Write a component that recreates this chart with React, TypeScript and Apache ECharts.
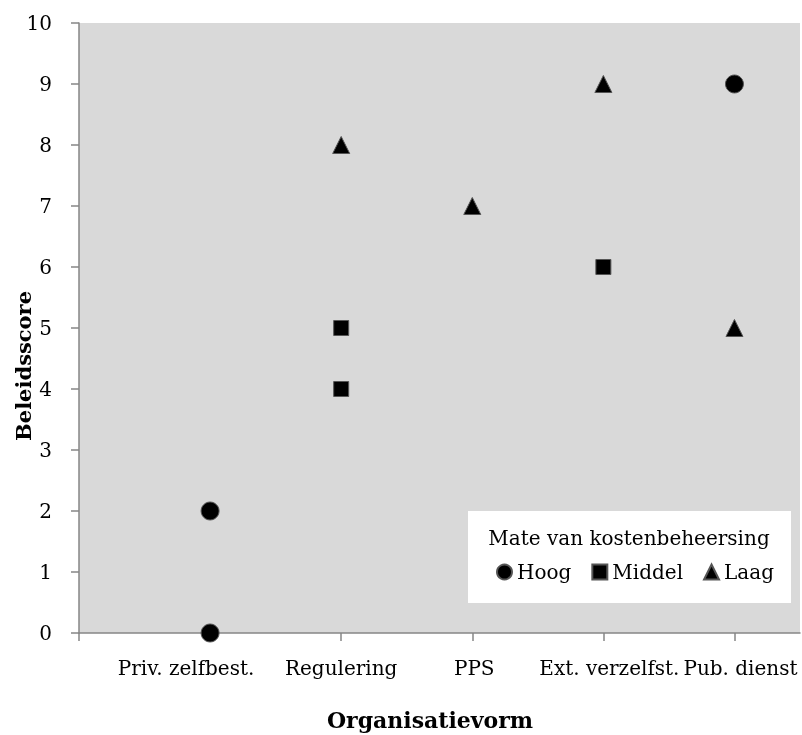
import React, { useEffect, useRef } from "react";
import * as echarts from "echarts";

// Organisation forms on the x axis (positions 1..5)
const categories = [
  "Priv. zelfbest.",
  "Regulering",
  "PPS",
  "Ext. verzelfst.",
  "Pub. dienst",
];

// [category position, policy score]
const hoog: [number, number][] = [
  [1, 2],
  [1, 0],
  [5, 9],
];
const middel: [number, number][] = [
  [2, 5],
  [2, 4],
  [4, 6],
];
const laag: [number, number][] = [
  [2, 8],
  [3, 7],
  [4, 9],
  [5, 5],
];

const yTicks = [0, 1, 2, 3, 4, 5, 6, 7, 8, 9, 10];

const FONT = "DejaVu Serif";
const AXIS_GREY = "#868686";

// horizontal nudge of each category label (left/right padding in px)
const labelPad: [number, number][] = [
  [0, 48],
  [0, 0],
  [4, 0],
  [12, 0],
  [12, 0],
];

export default function App() {
  const ref = useRef<HTMLDivElement>(null);

  useEffect(() => {
    if (!ref.current) return;
    const chart = echarts.init(ref.current, null, { renderer: "svg" });

    const markerStyle = {
      color: "#000",
      borderColor: "#555",
      borderWidth: 1,
      opacity: 1,
    };

    const rich: Record<string, object> = {};
    labelPad.forEach(([l, r], i) => {
      rich["c" + i] = {
        fontFamily: FONT,
        fontSize: 20,
        color: "#000",
        padding: [0, r, 0, l],
      };
    });

    chart.setOption({
      animation: false,
      grid: {
        left: 79,
        right: 2,
        top: 23,
        bottom: 102,
        show: true,
        backgroundColor: "#d9d9d9",
        borderWidth: 0,
      },
      xAxis: {
        type: "value",
        min: 0,
        max: 5.5,
        interval: 1,
        splitLine: { show: false },
        axisLine: { show: true, lineStyle: { color: AXIS_GREY, width: 1.5 } },
        axisTick: {
          show: true,
          length: 8,
          lineStyle: { color: AXIS_GREY, width: 1.5 },
          customValues: [0, 1, 2, 3, 4, 5],
        },
        axisLabel: {
          customValues: [1, 2, 3, 4, 5],
          formatter: (v: number) => {
            const i = Math.round(v) - 1;
            return categories[i] ? `{c${i}|${categories[i]}}` : "";
          },
          rich,
          color: "#000",
          fontFamily: FONT,
          fontSize: 20,
          margin: 25,
        },
      },
      yAxis: {
        type: "value",
        min: yTicks[0],
        max: yTicks[yTicks.length - 1],
        interval: 1,
        splitLine: { show: false },
        axisLine: { show: true, lineStyle: { color: AXIS_GREY, width: 1.5 } },
        axisTick: {
          show: true,
          length: 8,
          lineStyle: { color: AXIS_GREY, width: 1.5 },
        },
        axisLabel: {
          color: "#000",
          fontFamily: FONT,
          fontSize: 20,
          margin: 27,
        },
      },
      legend: {
        left: 491,
        top: 557,
        itemWidth: 15,
        itemHeight: 15,
        itemGap: 20,
        z: 10,
        textStyle: { fontFamily: FONT, fontSize: 20, color: "#000" },
        data: ["Hoog", "Middel", "Laag"],
      },
      graphic: [
        {
          type: "rect",
          shape: { x: 468, y: 511, width: 323, height: 92 },
          style: { fill: "#fff" },
          z: 1,
        },
        {
          type: "text",
          x: 629,
          y: 538,
          z: 10,
          style: {
            text: "Mate van kostenbeheersing",
            font: `20px "${FONT}"`,
            fill: "#000",
            align: "center",
            verticalAlign: "middle",
          },
        },
        {
          type: "text",
          x: 23,
          y: 366,
          rotation: Math.PI / 2,
          style: {
            text: "Beleidsscore",
            font: `bold 21px "${FONT}"`,
            fill: "#000",
            align: "center",
            verticalAlign: "middle",
          },
        },
        {
          type: "text",
          x: 430,
          y: 720,
          style: {
            text: "Organisatievorm",
            font: `bold 22px "${FONT}"`,
            fill: "#000",
            align: "center",
            verticalAlign: "middle",
          },
        },
      ],
      series: [
        {
          name: "Hoog",
          type: "scatter",
          symbol: "circle",
          symbolSize: 18,
          itemStyle: markerStyle,
          data: hoog,
          z: 5,
        },
        {
          name: "Middel",
          type: "scatter",
          symbol: "rect",
          symbolSize: 15,
          itemStyle: markerStyle,
          data: middel,
          z: 5,
        },
        {
          name: "Laag",
          type: "scatter",
          symbol: "triangle",
          symbolSize: 17,
          itemStyle: markerStyle,
          data: laag,
          z: 5,
        },
      ],
    });

    return () => chart.dispose();
  }, []);

  return (
    <div
      ref={ref}
      style={{ position: "fixed", left: 0, top: 0, width: 802, height: 735 }}
    />
  );
}
